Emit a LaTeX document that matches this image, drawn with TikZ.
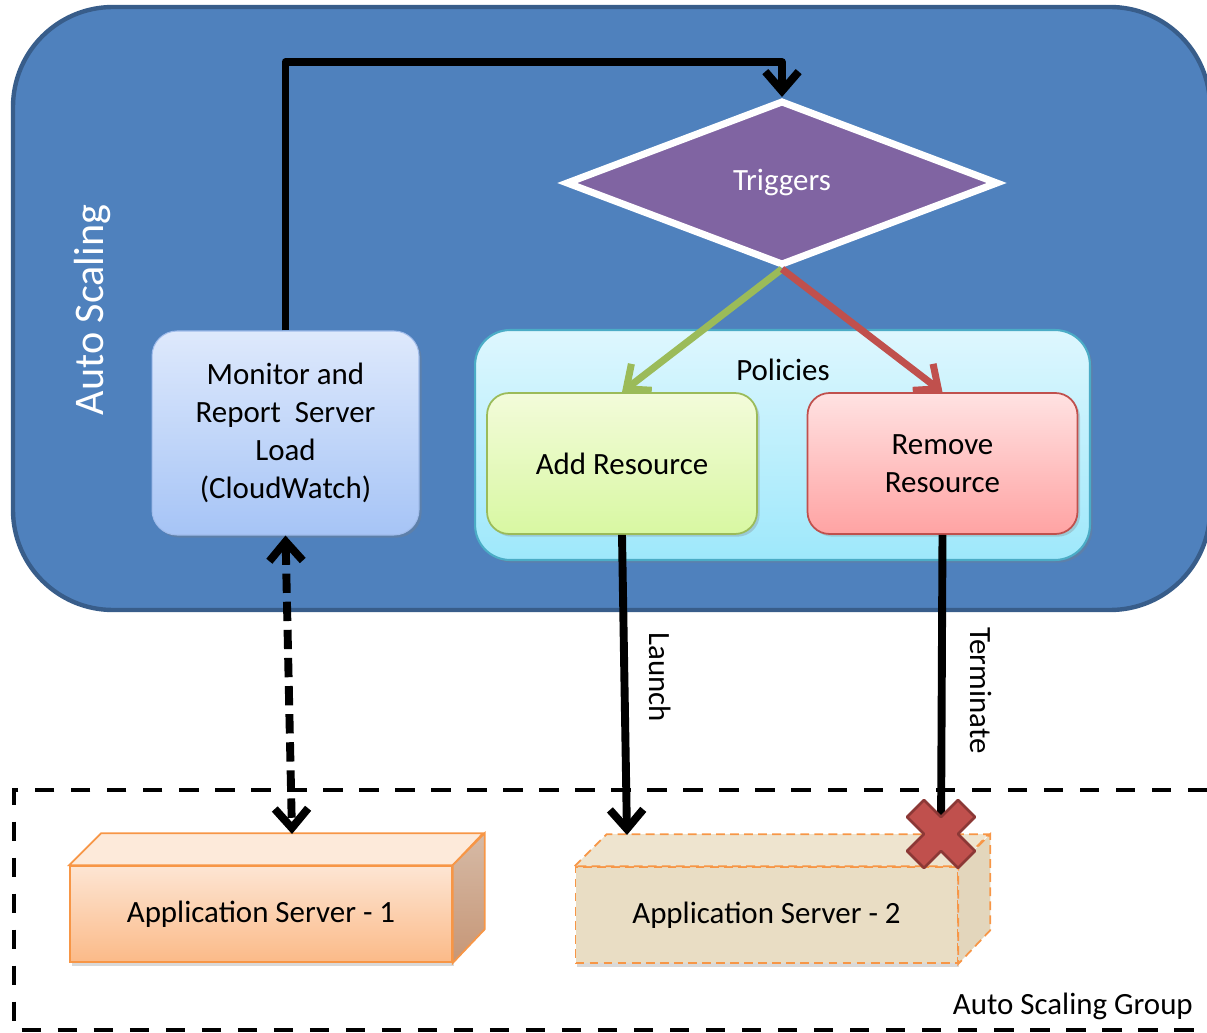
\documentclass[tikz,border=0pt]{standalone}
\usepackage{fontspec}
\setmainfont{Carlito}
\usepackage{tikz}
\usetikzlibrary{arrows.meta}
\usetikzlibrary{shapes.geometric}
\usetikzlibrary{shadows}

\definecolor{asblue}{HTML}{4F81BD}
\definecolor{asborder}{HTML}{385D8A}
\definecolor{trigfill}{HTML}{8064A2}
\definecolor{addgreen}{HTML}{9BBB59}
\definecolor{remred}{HTML}{C0504D}
\definecolor{polborder}{HTML}{4BACC6}
\definecolor{srvorange}{HTML}{F79646}

\newcommand{\boxfont}{\fontsize{17.6}{21.5}\selectfont}

\begin{document}
\begin{tikzpicture}[x=0.02cm, y=-0.02cm,
		barb/.tip={Straight Barb[length=11pt,width=19pt]},
		shade box/.style={drop shadow={opacity=.3,shadow xshift=1.5pt,shadow yshift=-1.5pt}},
		policy/.style={shade box,rounded corners=0.44cm,minimum width=5.4cm,minimum height=2.82cm,
			align=center,font=\boxfont,line width=1pt},
		flow/.style={line width=4.5pt,line join=round,-barb},
		server/.style={minimum width=7.64cm,minimum height=1.92cm,font=\boxfont,line width=1pt,
			draw=srvorange,drop shadow={opacity=.3,shadow xshift=1pt,shadow yshift=-2pt}},
		srv1top/.style={fill={rgb,255:red,253;green,234;blue,218},draw=srvorange,line width=1pt},
		srv1side/.style={top color={rgb,255:red,214;green,186;blue,166},bottom color={rgb,255:red,198;green,150;blue,118},draw=srvorange,line width=1pt},
		srv2top/.style={fill={rgb,255:red,238;green,228;blue,207},draw=srvorange,line width=1pt,dash pattern=on 5pt off 3pt},
		srv2side/.style={fill={rgb,255:red,227;green,214;blue,188},draw=srvorange,line width=1pt,dash pattern=on 5pt off 3pt},
		flowlbl/.style={rotate=-90,anchor=south,font=\boxfont}
	]
	\useasboundingbox (0,0) rectangle (1207,1033);

	% auto scaling
	\filldraw[fill=asblue,draw=asborder,line width=2.5pt,rounded corners=2cm] (13,7) rectangle (1210,610);
	\node[rotate=90,text=white,font=\fontsize{24}{28}\selectfont] (aslbl) at (92,310) {Auto Scaling};

	\node[diamond,fill=trigfill,draw=white,line width=4pt,minimum width=8.65cm,minimum height=3.3cm,
		aspect=2.6,text=white,font=\boxfont] (trig) at (782,183) {Triggers};

	\node[shade box,rounded corners=0.5cm,minimum width=5.34cm,minimum height=4.08cm,align=center,font=\boxfont,
		top color={rgb,255:red,222;green,233;blue,252},bottom color={rgb,255:red,166;green,196;blue,246},
		draw={rgb,255:red,160;green,188;blue,235},line width=.6pt] (mon) at (285.5,433)
		{Monitor and\\Report\ \ Server\\Load\\(CloudWatch)};

	% policies
	\node[shade box,rounded corners=0.7cm,minimum width=12.3cm,minimum height=4.6cm,
		top color={rgb,255:red,222;green,247;blue,254},bottom color={rgb,255:red,158;green,232;blue,251},
		draw=polborder,line width=1.2pt] (pol) at (782.5,445) {};
	\node[font=\boxfont] (poltitle) at (783,370) {Policies};
	\node[policy,top color={rgb,255:red,243;green,251;blue,218},bottom color={rgb,255:red,216;green,248;blue,162},
		draw=addgreen] (add) at (622,463.5) {Add Resource};
	\node[policy,top color={rgb,255:red,255;green,226;blue,226},bottom color={rgb,255:red,255;green,163;blue,163},
		draw=remred] (rem) at (942.5,463.5) {Remove\\Resource};

	\draw[flow] (mon.north) -- (mon.north |- 0,62) -| (trig.north);
	\draw[flow,draw=addgreen,line width=4pt] (trig.south) -- (add.north);
	\draw[flow,draw=remred,line width=4pt] (trig.south) -- (rem.north);

	% auto scaling group
	\draw[line width=2.8pt,dash pattern=on 11pt off 9.5pt] (1207,790) -| (14,1030) -- (1207,1030);
	\node[anchor=east,font=\boxfont] (grplbl) at (1199,1006) {Auto Scaling Group};

	\node[server,top color={rgb,255:red,253;green,229;blue,211},bottom color={rgb,255:red,251;green,186;blue,136}]
		(srv1) at (261,914) {Application Server - 1};
	\node[server,fill={rgb,255:red,233;green,221;blue,196},dash pattern=on 5pt off 3pt]
		(srv2) at (766.5,915) {Application Server - 2};
	\foreach \s in {srv1,srv2} {
		\filldraw[\s top] (\s.north west) -- ++(32,-32) -- ++(382,0) -- (\s.north east) -- cycle;
		\filldraw[\s side] (\s.north east) -- ++(32,-32) -- ++(0,96) -- (\s.south east) -- cycle;
	}
	\coordinate (srv1in) at (292,834);
	\coordinate (srv2in) at (627,835);
	\coordinate (kill) at (941,834);

	\draw[flow,barb-barb,dash pattern=on 11pt off 5pt] (mon.south) -- (srv1in);
	\draw[flow] (add.south) -- node[flowlbl,pos=.475,inner sep=12pt] {Launch} (srv2in);
	\draw[line width=4.5pt] (rem.south) -- node[flowlbl,pos=.52,inner sep=14pt] {Terminate} (kill);

	\filldraw[fill=remred,draw={rgb,255:red,140;green,56;blue,54},line width=1.5pt,line join=round,shift={(kill)},rotate=45]
		(12,36) -- (12,12) -- (36,12) -- (36,-12) -- (12,-12) -- (12,-36) -- (-12,-36) -- (-12,-12)
		-- (-36,-12) -- (-36,12) -- (-12,12) -- (-12,36) -- cycle;
\end{tikzpicture}
\end{document}
